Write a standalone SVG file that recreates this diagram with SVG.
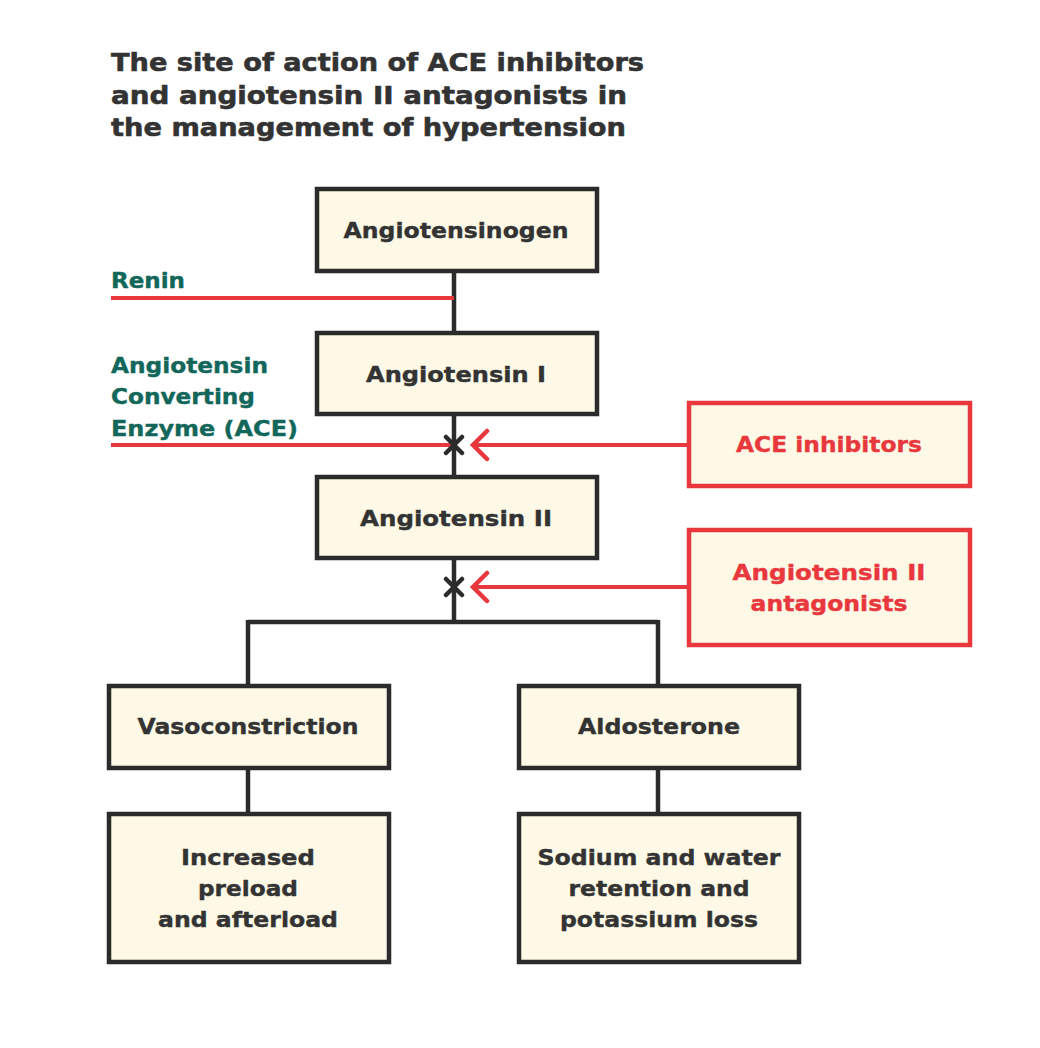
<svg xmlns="http://www.w3.org/2000/svg" width="1040" height="1048" viewBox="0 0 1040 1048">
<style>
.box{fill:#fdf9e6;stroke:#2b2b2b;stroke-width:4.5}
.rbox{fill:#fdf9e6;stroke:#e8383d;stroke-width:4.5}
text{font-family:"DejaVu Sans","Liberation Sans",sans-serif;font-weight:bold;stroke-width:0.4;stroke-linejoin:round}
.t{font-size:22px;fill:#333;stroke:#333;text-anchor:middle}
.rt{font-size:22px;fill:#e8383d;stroke:#e8383d;text-anchor:middle}
.g{font-size:22px;fill:#12675a;stroke:#12675a}
.title{font-size:25px;fill:#333;stroke:#333;stroke-width:0.6}
.bl{stroke:#2b2b2b;stroke-width:4.5;fill:none}
.rl{stroke:#e8383d;stroke-width:4;fill:none}
.ah{stroke:#e8383d;stroke-width:4.5;fill:none;stroke-linecap:round;stroke-linejoin:miter}
.x{stroke:#2b2b2b;stroke-width:4.5;stroke-linecap:round}
</style>
<rect width="1040" height="1048" fill="#fff"/>
<g id="title">
<text class="title" x="111" y="71" textLength="533" lengthAdjust="spacingAndGlyphs">The site of action of ACE inhibitors</text>
<text class="title" x="111" y="104" textLength="516" lengthAdjust="spacingAndGlyphs">and angiotensin II antagonists in</text>
<text class="title" x="111" y="136" textLength="515" lengthAdjust="spacingAndGlyphs">the management of hypertension</text>
</g>
<g id="connectors">
<path class="bl" d="M454 271V333M454 414V477M454 558V622M248 622H658M248 620V686M658 620V686M248 768V814M658 768V814"/>
<path class="rl" d="M111 298H454M111 445H454M689 445H473M689 587H473"/>
<path class="ah" d="M487 431L473 445L487 459M487 573L473 587L487 601"/>
<path class="x" d="M446 437L462 453M462 437L446 453M446 579L462 595M462 579L446 595"/>
</g>
<g id="renin"><text class="g" x="111" y="288" textLength="74" lengthAdjust="spacingAndGlyphs">Renin</text></g>
<g id="ace">
<text class="g" x="111" y="373" textLength="157" lengthAdjust="spacingAndGlyphs">Angiotensin</text>
<text class="g" x="111" y="404" textLength="144" lengthAdjust="spacingAndGlyphs">Converting</text>
<text class="g" x="111" y="436" textLength="187" lengthAdjust="spacingAndGlyphs">Enzyme (ACE)</text>
</g>
<g id="angiotensinogen"><rect class="box" x="317" y="189" width="280" height="82"/><text class="t" x="456" y="238" textLength="225" lengthAdjust="spacingAndGlyphs">Angiotensinogen</text></g>
<g id="angiotensin1"><rect class="box" x="317" y="333" width="280" height="81"/><text class="t" x="456" y="382" textLength="180" lengthAdjust="spacingAndGlyphs">Angiotensin I</text></g>
<g id="angiotensin2"><rect class="box" x="317" y="477" width="280" height="81"/><text class="t" x="456" y="526" textLength="192" lengthAdjust="spacingAndGlyphs">Angiotensin II</text></g>
<g id="aceinhibitors"><rect class="rbox" x="689" y="403" width="281" height="83"/><text class="rt" x="829" y="452" textLength="186" lengthAdjust="spacingAndGlyphs">ACE inhibitors</text></g>
<g id="antagonists"><rect class="rbox" x="689" y="530" width="281" height="115"/><text class="rt" x="829" y="580" textLength="193" lengthAdjust="spacingAndGlyphs">Angiotensin II</text><text class="rt" x="829" y="611" textLength="157" lengthAdjust="spacingAndGlyphs">antagonists</text></g>
<g id="vasoconstriction"><rect class="box" x="109" y="686" width="280" height="82"/><text class="t" x="248" y="734" textLength="221" lengthAdjust="spacingAndGlyphs">Vasoconstriction</text></g>
<g id="aldosterone"><rect class="box" x="519" y="686" width="280" height="82"/><text class="t" x="659" y="734" textLength="162" lengthAdjust="spacingAndGlyphs">Aldosterone</text></g>
<g id="increased"><rect class="box" x="109" y="814" width="280" height="148"/><text class="t" x="248" y="865" textLength="134" lengthAdjust="spacingAndGlyphs">Increased</text><text class="t" x="248" y="896" textLength="100" lengthAdjust="spacingAndGlyphs">preload</text><text class="t" x="248" y="927" textLength="180" lengthAdjust="spacingAndGlyphs">and afterload</text></g>
<g id="sodium"><rect class="box" x="519" y="814" width="280" height="148"/><text class="t" x="659" y="865" textLength="243" lengthAdjust="spacingAndGlyphs">Sodium and water</text><text class="t" x="659" y="896" textLength="181" lengthAdjust="spacingAndGlyphs">retention and</text><text class="t" x="659" y="927" textLength="198" lengthAdjust="spacingAndGlyphs">potassium loss</text></g>
</svg>
